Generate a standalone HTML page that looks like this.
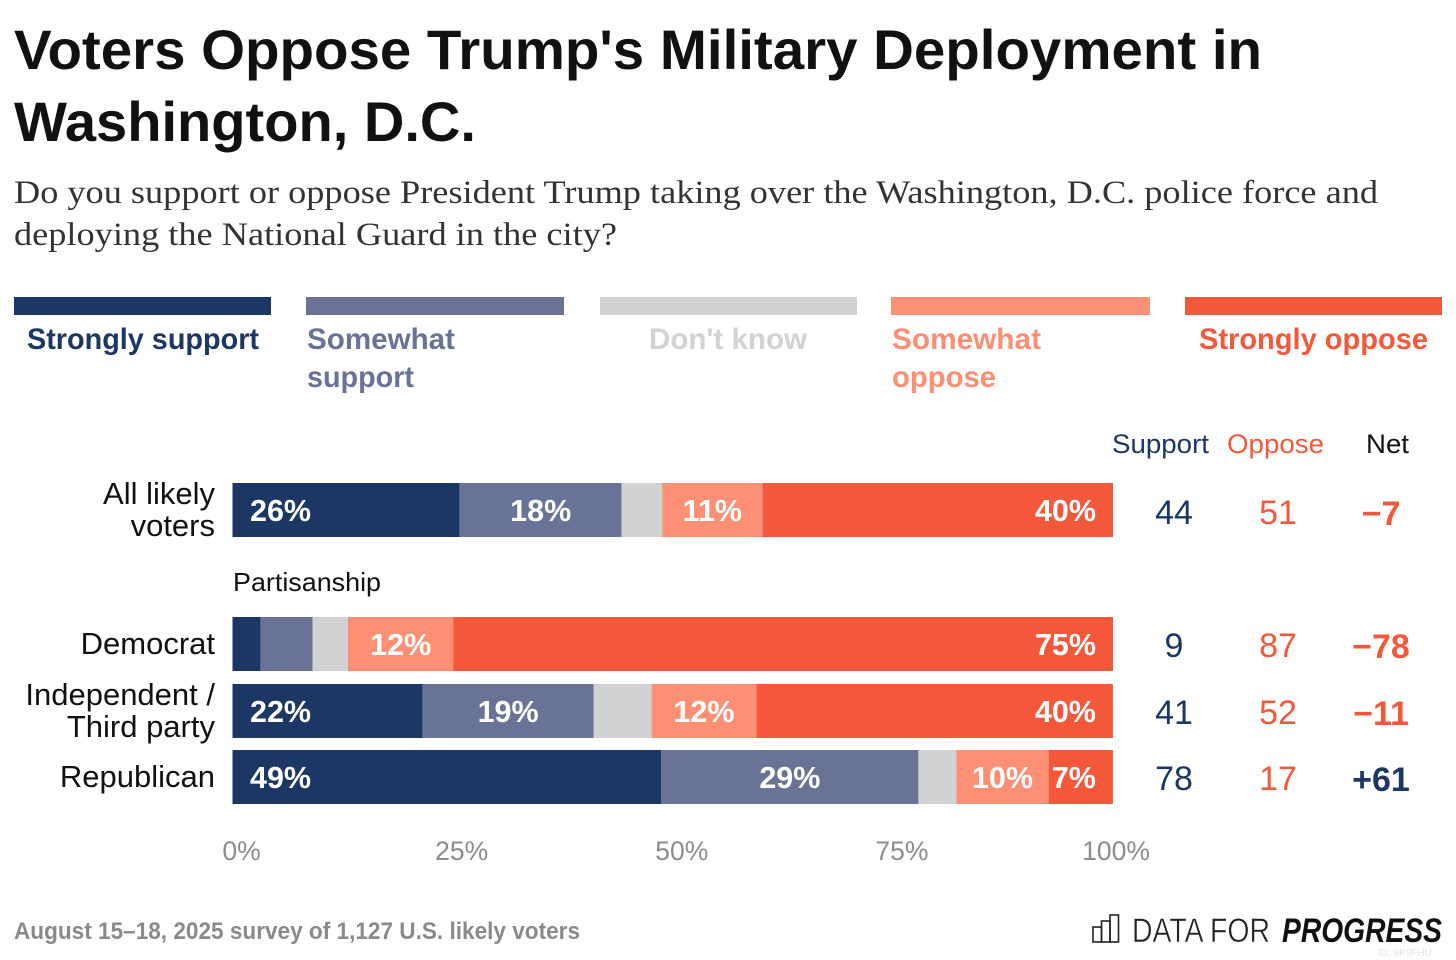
<!DOCTYPE html>
<html lang="en">
<head>
<meta charset="utf-8">
<title>Voters Oppose Trump's Military Deployment in Washington, D.C.</title>
<style>
  html, body { margin: 0; padding: 0; background: #fff; }
  svg { display: block; font-family: "Liberation Sans", sans-serif; }
  .title { font-size: 56px; font-weight: 700; fill: #111; }
  .sub { font-family: "Liberation Serif", serif; font-size: 33px; fill: #333; }
  .leg { font-size: 30px; font-weight: 700; }
  .row { font-size: 31px; fill: #111; text-anchor: end; }
  .bar-label { font-size: 30.5px; font-weight: 700; fill: #fff; }
  .tick { font-size: 26.5px; fill: #8c8c8c; text-anchor: middle; }
  .col { font-size: 27px; }
  .val { font-size: 34px; text-anchor: middle; }
  .net { font-size: 34px; font-weight: 700; text-anchor: middle; }
</style>
</head>
<body>
<svg id="chart" xmlns="http://www.w3.org/2000/svg" width="1456" height="960" viewBox="0 0 1456 960">
  <rect width="1456" height="960" fill="#fff"/>
  <text class="title" x="14" y="69" textLength="1248" lengthAdjust="spacingAndGlyphs">Voters Oppose Trump's Military Deployment in</text>
  <text class="title" x="14" y="141" textLength="462" lengthAdjust="spacingAndGlyphs">Washington, D.C.</text>
  <text class="sub" x="14" y="203" textLength="1364" lengthAdjust="spacingAndGlyphs">Do you support or oppose President Trump taking over the Washington, D.C. police force and</text>
  <text class="sub" x="14" y="245" textLength="603" lengthAdjust="spacingAndGlyphs">deploying the National Guard in the city?</text>

  <g>
    <rect x="14" y="297" width="257" height="18" fill="#1c3764"/>
    <text class="leg" x="27" y="349" fill="#1c3764" textLength="232" lengthAdjust="spacingAndGlyphs">Strongly support</text>
    <rect x="306" y="297" width="258" height="18" fill="#697396"/>
    <text class="leg" x="307" y="349" fill="#697396" textLength="148" lengthAdjust="spacingAndGlyphs">Somewhat</text>
    <text class="leg" x="307" y="387" fill="#697396" textLength="107" lengthAdjust="spacingAndGlyphs">support</text>
    <rect x="600" y="297" width="257" height="18" fill="#d0d2d4"/>
    <text class="leg" x="649" y="349" fill="#d0d2d4" textLength="158" lengthAdjust="spacingAndGlyphs">Don't know</text>
    <rect x="891" y="297" width="259" height="18" fill="#fd8f74"/>
    <text class="leg" x="892" y="349" fill="#fd8f74" textLength="149" lengthAdjust="spacingAndGlyphs">Somewhat</text>
    <text class="leg" x="892" y="387" fill="#fd8f74" textLength="104" lengthAdjust="spacingAndGlyphs">oppose</text>
    <rect x="1185" y="297" width="257" height="18" fill="#f4583b"/>
    <text class="leg" x="1199" y="349" fill="#f4583b" textLength="229" lengthAdjust="spacingAndGlyphs">Strongly oppose</text>
  </g>

  <text class="col" x="1112" y="453" fill="#1c3764" textLength="97" lengthAdjust="spacingAndGlyphs">Support</text>
  <text class="col" x="1227" y="453" fill="#f4583b" textLength="97" lengthAdjust="spacingAndGlyphs">Oppose</text>
  <text class="col" x="1366" y="453" fill="#111" textLength="43" lengthAdjust="spacingAndGlyphs">Net</text>

  <text x="233" y="591" font-size="26" fill="#111" textLength="148" lengthAdjust="spacingAndGlyphs">Partisanship</text>

  <g id="rows"></g>
  <g id="axis"></g>

  <text x="14" y="939" font-size="24" font-weight="700" fill="#8a8a8a" textLength="566" lengthAdjust="spacingAndGlyphs">August 15–18, 2025 survey of 1,127 U.S. likely voters</text>

  <g>
    <g fill="none" stroke="#222" stroke-width="1.6">
      <rect x="1093" y="927" width="8.5" height="15"/>
      <rect x="1101.5" y="921" width="8.5" height="21"/>
      <rect x="1110" y="915" width="8.5" height="27"/>
    </g>
    <text x="1132" y="942" font-size="34" fill="#222" stroke="#fff" stroke-width="0.5" textLength="138" lengthAdjust="spacingAndGlyphs">DATA FOR</text>
    <text x="1282" y="942" font-size="34" font-weight="700" font-style="italic" fill="#111" textLength="160" lengthAdjust="spacingAndGlyphs">PROGRESS</text>
    <text x="1378" y="956" font-size="10" fill="#e4e4e4" textLength="54" lengthAdjust="spacingAndGlyphs">ID: 9K9FHU</text>
  </g>
</svg>
<script>
// ---- data ----
const categories = [["All likely", "voters"], ["Democrat"], ["Independent /", "Third party"], ["Republican"]];
const stronglySupport = [25.8, 3.2, 21.6, 48.7];
const somewhatSupport = [18.4, 5.9, 19.4, 29.2];
const dontKnow = [4.6, 4.0, 6.6, 4.3];
const somewhatOppose = [11.4, 12.0, 11.9, 10.49];
const stronglyOppose = [39.8, 74.9, 40.49, 7.3];
const supportTotals = [44, 9, 41, 78];
const opposeTotals = [51, 87, 52, 17];
const netValues = [-7, -78, -11, 61];
const tickValues = [0, 25, 50, 75, 100];

// ---- layout ----
const NS = "http://www.w3.org/2000/svg";
const barLeft = 232.5, barRight = 1113, barHeight = 54;
const rowTops = [483, 617, 684, 750];
const seriesList = [
  { key: "strongly-support", values: stronglySupport, color: "#1c3764", align: "start" },
  { key: "somewhat-support", values: somewhatSupport, color: "#697396", align: "middle" },
  { key: "dont-know", values: dontKnow, color: "#d0d2d4", align: "middle" },
  { key: "somewhat-oppose", values: somewhatOppose, color: "#fd8f74", align: "middle" },
  { key: "strongly-oppose", values: stronglyOppose, color: "#f4583b", align: "end" }
];
const xScale = v => barLeft + (barRight - barLeft) * v / 100;
const minLabelled = 7;

function svgEl(tag, parent) {
  const el = document.createElementNS(NS, tag);
  parent.appendChild(el);
  return el;
}
function label(parent, x, y, str, cls) {
  const el = svgEl("text", parent);
  el.setAttribute("x", x);
  el.setAttribute("y", y);
  el.setAttribute("class", cls);
  el.textContent = str;
  return el;
}
function signed(v) {
  return (v < 0 ? "\u2212" : "+") + Math.abs(v);
}

const rowsGroup = document.getElementById("rows");
categories.forEach((lines, r) => {
  const top = rowTops[r];
  const g = svgEl("g", rowsGroup);
  
  

  const labelBase = top + 37 - (lines.length - 1) * 16;
  lines.forEach((line, i) => {
    const t = label(g, 215, labelBase + i * 32, line, "row");
    
    
  });

  let cum = 0;
  seriesList.forEach(s => {
    const v = s.values[r];
    const x0 = xScale(cum);
    const x1 = xScale(cum + v);
    const rect = svgEl("rect", g);
    rect.setAttribute("x", x0);
    rect.setAttribute("y", top);
    rect.setAttribute("width", x1 - x0);
    rect.setAttribute("height", barHeight);
    rect.setAttribute("fill", s.color);
    
    
    if (v >= minLabelled && s.key !== "dont-know") {
      const lx = s.align === "start" ? x0 + 17.5 : s.align === "end" ? x1 - 17 : (x0 + x1) / 2;
      const t = label(g, lx, top + 38, Math.round(v) + "%", "bar-label");
      t.setAttribute("text-anchor", s.align);
      
      
    }
    cum += v;
  });

  const valueBase = top + (r === 0 ? 41 : 40);
  const sup = label(g, 1174, valueBase, String(supportTotals[r]), "val");
  sup.setAttribute("fill", "#1c3764");
  
  
  const opp = label(g, 1278, valueBase, String(opposeTotals[r]), "val");
  opp.setAttribute("fill", "#f4583b");
  
  
  const net = label(g, 1381, valueBase + 1, signed(netValues[r]), "net");
  net.setAttribute("fill", netValues[r] < 0 ? "#f4583b" : "#1c3764");
  
  
});

const axisGroup = document.getElementById("axis");
tickValues.forEach(t => {
  const lbl = label(axisGroup, Math.min(xScale(t) + 9, 1116), 860, t + "%", "tick");
  
  
});
</script>
</body>
</html>
